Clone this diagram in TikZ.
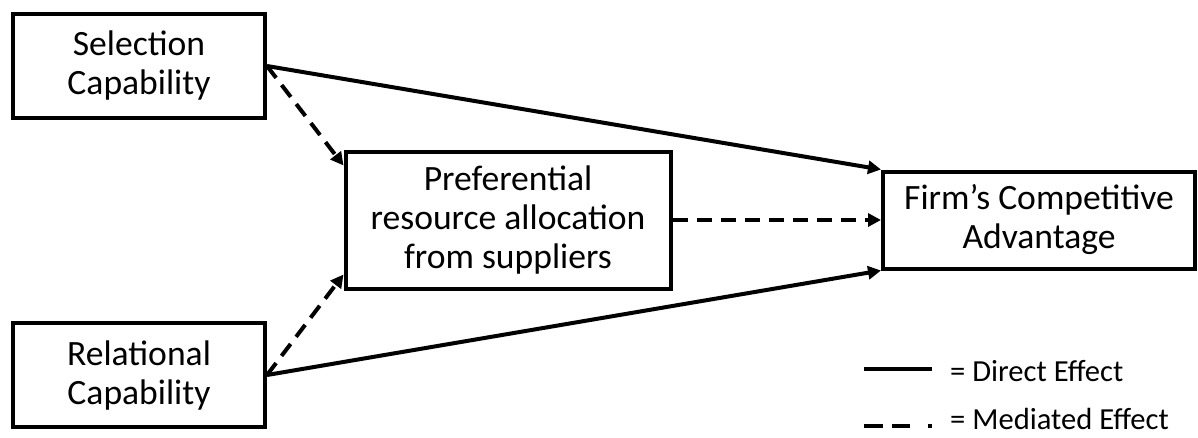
\documentclass[tikz,border=0pt]{standalone}
\usepackage{fontspec}
\setmainfont{Carlito}
\usetikzlibrary{arrows.meta,calc}
\begin{document}
\begin{tikzpicture}[x=1pt, y=-1pt,
  box/.style={draw, line width=4pt, align=center, inner sep=0pt,
    font=\fontsize{35.6}{39}\selectfont},
  direct/.style={line width=4pt, -{Triangle[length=13pt,width=13pt]}},
  mediated/.style={direct, dash pattern=on 15pt off 9pt},
  legend/.style={anchor=base west, inner sep=0pt, font=\fontsize{30.6}{36}\selectfont}]
\useasboundingbox (0,0) rectangle (1198,437);
\node[box, minimum width=252pt, minimum height=104pt] (sel) at (139,66) {Selection\\Capability};
\node[box, minimum width=252pt, minimum height=104pt] (rel) at (139,375) {Relational\\Capability};
\node[box, minimum width=325pt, minimum height=137pt] (pref) at (508,220) {Preferential\\resource allocation\\from suppliers};
\node[box, minimum width=312pt, minimum height=97pt] (firm) at (1039,220) {Firm’s Competitive\\Advantage};
\draw[direct] (sel.east) -- (firm.north west);
\draw[direct] (rel.east) -- (firm.south west);
\draw[mediated] (sel.east) -- ($(pref.north west)+(0,16)$);
\draw[mediated] (rel.east) -- ($(pref.south west)+(0,-16)$);
\draw[mediated] (pref.east) -- (firm.west);
% legend
\path (864,369) coordinate (dirA) (932,369) coordinate (dirB);
\path (864,426) coordinate (medA) (932,426) coordinate (medB);
\draw[line width=4pt] (dirA) -- (dirB);
\draw[line width=4pt, dash pattern=on 19pt off 9pt on 18pt off 18pt on 20pt] (medA) -- (medB);
\node[legend] (dirtxt) at (950,381) {= Direct Effect};
\node[legend] (medtxt) at (950,429) {= Mediated Effect};
\end{tikzpicture}
\end{document}
